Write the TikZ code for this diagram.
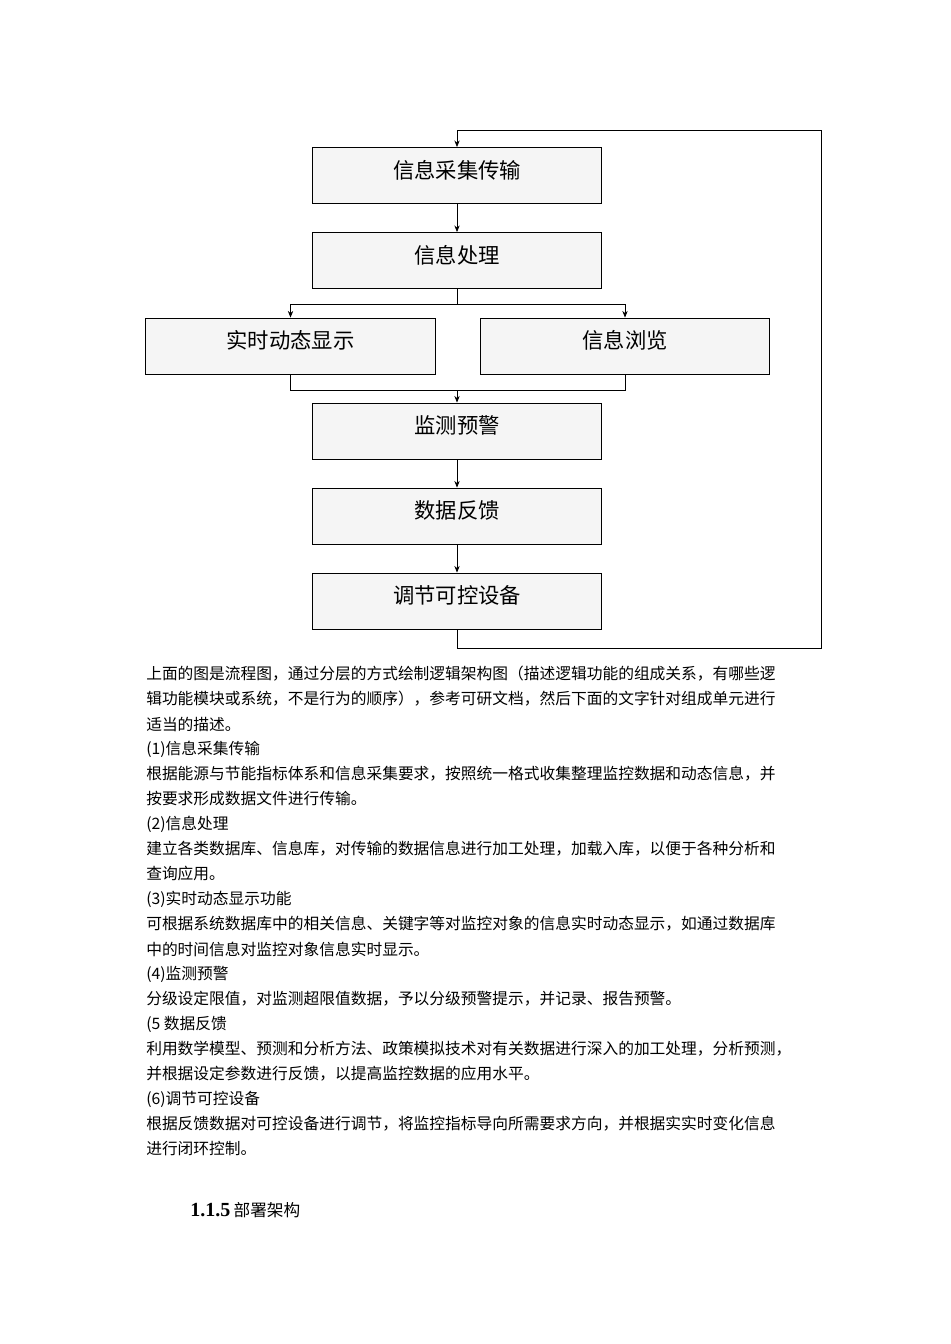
\documentclass[tikz,border=0pt]{standalone}
\usepackage{fontspec}
\setmainfont{Liberation Serif}
\newfontfamily\cjk{Noto Sans CJK SC}
\usetikzlibrary{arrows.meta}
\begin{document}
\begin{tikzpicture}[x=0.75pt,y=-0.75pt,
  box/.style={draw,fill=gray!8,line width=0.6pt,minimum width=217pt,minimum height=42pt,inner sep=0pt},
  lbl/.style={font=\cjk\fontsize{16}{18}\selectfont},
  con/.style={line width=0.6pt},
  arr/.style={con,-{Stealth[length=5pt,width=4pt]}},
  txt/.style={anchor=west,inner sep=0pt,font=\cjk\fontsize{11.8}{14}\selectfont}]
\useasboundingbox (0,0) rectangle (950,1344);
\node[box] (a) at (457,175.5) {};
\node[box] (b) at (457,260.5) {};
\node[box] (c) at (290.5,346) {};
\node[box] (d) at (625,346) {};
\node[box] (e) at (457,431) {};
\node[box] (f) at (457,516) {};
\node[box] (g) at (457,601) {};
\node[lbl] (ta) at (457,170) {信息采集传输};
\node[lbl] (tb) at (457,255) {信息处理};
\node[lbl] (tc) at (290.5,340) {实时动态显示};
\node[lbl] (td) at (625,340) {信息浏览};
\node[lbl] (te) at (457,425) {监测预警};
\node[lbl] (tf) at (457,510) {数据反馈};
\node[lbl] (tg) at (457,595) {调节可控设备};
\draw[arr] (a) -- (b);
\coordinate (s) at (457,304);
\draw[con] (b) -- (s);
\draw[arr] (s) -| (c);
\draw[arr] (s) -| (d);
\coordinate (m) at (457,390);
\draw[con] (c.south) |- (m);
\draw[con] (d.south) |- (m);
\draw[arr] (m) -- (e);
\draw[arr] (e) -- (f);
\draw[arr] (f) -- (g);
\draw[arr] (g.south) -- (457,648) -- (821,648) -- (821,130) -- (457,130) -- (a.north);
\foreach \t [count=\i from 0] in {
{上面的图是流程图，通过分层的方式绘制逻辑架构图（描述逻辑功能的组成关系，有哪些逻},
{辑功能模块或系统，不是行为的顺序），参考可研文档，然后下面的文字针对组成单元进行},
{适当的描述。},
{(1)信息采集传输},
{根据能源与节能指标体系和信息采集要求，按照统一格式收集整理监控数据和动态信息，并},
{按要求形成数据文件进行传输。},
{(2)信息处理},
{建立各类数据库、信息库，对传输的数据信息进行加工处理，加载入库，以便于各种分析和},
{查询应用。},
{(3)实时动态显示功能},
{可根据系统数据库中的相关信息、关键字等对监控对象的信息实时动态显示，如通过数据库},
{中的时间信息对监控对象信息实时显示。},
{(4)监测预警},
{分级设定限值，对监测超限值数据，予以分级预警提示，并记录、报告预警。},
{(5 数据反馈},
{利用数学模型、预测和分析方法、政策模拟技术对有关数据进行深入的加工处理，分析预测，},
{并根据设定参数进行反馈，以提高监控数据的应用水平。},
{(6)调节可控设备},
{根据反馈数据对可控设备进行调节，将监控指标导向所需要求方向，并根据实实时变化信息},
{进行闭环控制。}}
  \node[txt] (l\i) at (146,{674+25*\i}) {\t};
\node[anchor=west,inner sep=0pt] (h) at (190,1210) {\fontsize{15}{17}\selectfont\bfseries 1.1.5\,{\cjk\mdseries\fontsize{12.5}{15}\selectfont 部署架构}};
\end{tikzpicture}
\end{document}
